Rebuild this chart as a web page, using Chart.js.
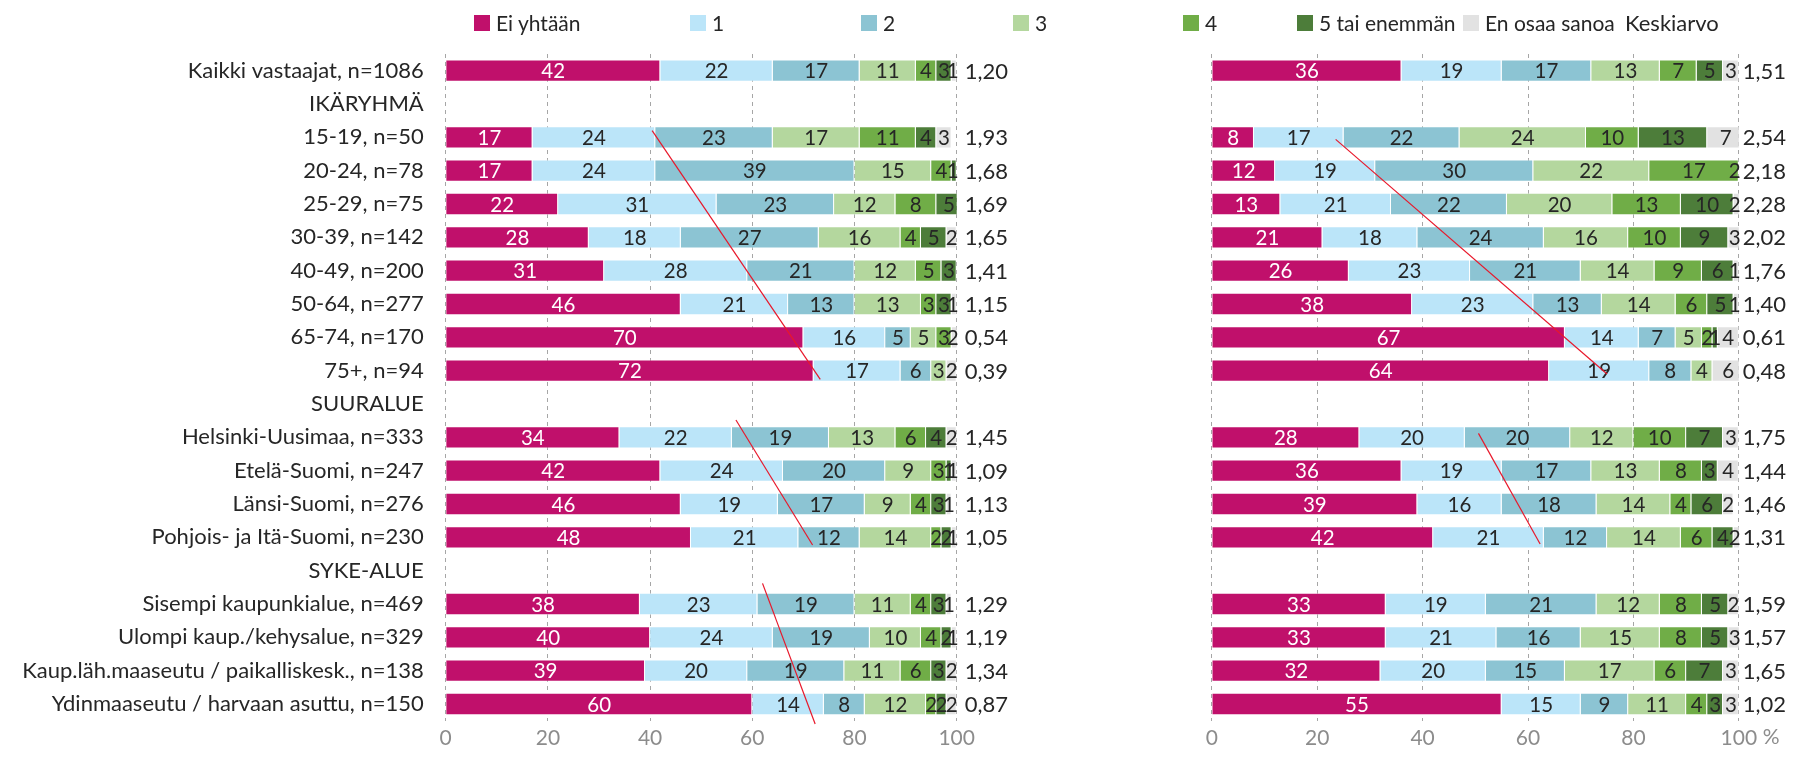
<!DOCTYPE html>
<html>
<head>
<meta charset="utf-8">
<script src="https://cdn.jsdelivr.net/npm/chart.js@4.4.1/dist/chart.umd.min.js"></script>
<style>
html, body { margin: 0; padding: 0; background: #fff; }
body { width: 1801px; height: 757px; position: relative; overflow: hidden; font-family: Lato, "Open Sans", sans-serif; }
canvas { position: absolute; top: 0; }
#leftChart { left: 0; }
#rightChart { left: 1030px; }
.legend-item { position: absolute; top: 9px; font-size: 21px; line-height: 28px; color: #262626; white-space: nowrap; }
.legend-box { position: absolute; top: 6px; width: 16px; height: 16px; }
</style>
</head>
<body>
<canvas id="leftChart" width="1030" height="757"></canvas>
<canvas id="rightChart" width="771" height="757"></canvas>
<div id="legend"></div>
<script>
const categories = [
    'Kaikki vastaajat, n=1086', 'IKÄRYHMÄ',
    '15-19, n=50', '20-24, n=78', '25-29, n=75', '30-39, n=142',
    '40-49, n=200', '50-64, n=277', '65-74, n=170', '75+, n=94',
    'SUURALUE',
    'Helsinki-Uusimaa, n=333', 'Etelä-Suomi, n=247', 'Länsi-Suomi, n=276', 'Pohjois- ja Itä-Suomi, n=230',
    'SYKE-ALUE',
    'Sisempi kaupunkialue, n=469', 'Ulompi kaup./kehysalue, n=329',
    'Kaup.läh.maaseutu / paikalliskesk., n=138', 'Ydinmaaseutu / harvaan asuttu, n=150'
];
const seriesNames = ['Ei yhtään', '1', '2', '3', '4', '5 tai enemmän', 'En osaa sanoa'];
const seriesColors = ['#C0106B', '#BBE5F9', '#8CC4D3', '#B4D79E', '#70AD47', '#4D7D3A', '#E2E2E2'];
const meanTitle = 'Keskiarvo';

// vasen kuvio
const leftEi  = [42, null, 17, 17, 22, 28, 31, 46, 70, 72, null, 34, 42, 46, 48, null, 38, 40, 39, 60];
const left1   = [22, null, 24, 24, 31, 18, 28, 21, 16, 17, null, 22, 24, 19, 21, null, 23, 24, 20, 14];
const left2   = [17, null, 23, 39, 23, 27, 21, 13, 5, 6, null, 19, 20, 17, 12, null, 19, 19, 19, 8];
const left3   = [11, null, 17, 15, 12, 16, 12, 13, 5, 3, null, 13, 9, 9, 14, null, 11, 10, 11, 12];
const left4   = [4, null, 11, 4, 8, 4, 5, 3, 3, 0, null, 6, 3, 4, 2, null, 4, 4, 6, 2];
const left5   = [3, null, 4, 1, 5, 5, 3, 3, 0, 0, null, 4, 1, 3, 2, null, 3, 2, 3, 2];
const leftEos = [1, null, 3, 0, 0, 2, 0, 1, 2, 2, null, 2, 1, 1, 1, null, 1, 1, 2, 2];
const leftMean = [1.20, null, 1.93, 1.68, 1.69, 1.65, 1.41, 1.15, 0.54, 0.39, null, 1.45, 1.09, 1.13, 1.05, null, 1.29, 1.19, 1.34, 0.87];

// oikea kuvio
const rightEi  = [36, null, 8, 12, 13, 21, 26, 38, 67, 64, null, 28, 36, 39, 42, null, 33, 33, 32, 55];
const right1   = [19, null, 17, 19, 21, 18, 23, 23, 14, 19, null, 20, 19, 16, 21, null, 19, 21, 20, 15];
const right2   = [17, null, 22, 30, 22, 24, 21, 13, 7, 8, null, 20, 17, 18, 12, null, 21, 16, 15, 9];
const right3   = [13, null, 24, 22, 20, 16, 14, 14, 5, 4, null, 12, 13, 14, 14, null, 12, 15, 17, 11];
const right4   = [7, null, 10, 17, 13, 10, 9, 6, 2, 0, null, 10, 8, 4, 6, null, 8, 8, 6, 4];
const right5   = [5, null, 13, 0, 10, 9, 6, 5, 1, 0, null, 7, 3, 6, 4, null, 5, 5, 7, 3];
const rightEos = [3, null, 7, 2, 2, 3, 1, 1, 4, 6, null, 3, 4, 2, 2, null, 2, 3, 3, 3];
const rightMean = [1.51, null, 2.54, 2.18, 2.28, 2.02, 1.76, 1.40, 0.61, 0.48, null, 1.75, 1.44, 1.46, 1.31, null, 1.59, 1.57, 1.65, 1.02];

const xTicks = [0, 20, 40, 60, 80, 100];

// punaiset trendiviivat: [x1, rivi1, x2, rivi2] arvoina
const leftTrends = [[40.4, 1.8, 73.3, 9.26], [56.8, 10.48, 71.8, 14.23], [62.0, 15.38, 72.3, 19.6]];
const rightTrends = [[23.5, 2.06, 75.0, 9.1], [50.6, 10.88, 62.3, 14.2]];

const FONT = 'Lato, "Open Sans", sans-serif';
const TEXT = '#262626';

// legend
const legendX = [474, 690, 861, 1013, 1183, 1297, 1463];
const legendEl = document.getElementById('legend');
seriesNames.forEach((name, i) => {
    const item = document.createElement('div');
    item.className = 'legend-item';
    item.style.left = legendX[i] + 'px';
    item.innerHTML = '<span class="legend-box" style="left:0;background:' + seriesColors[i] + '"></span>' +
        '<span style="margin-left:22px">' + name + '</span>';
    legendEl.appendChild(item);
});
const kesk = document.createElement('div');
kesk.className = 'legend-item';
kesk.style.left = '1625px';
kesk.style.fontSize = '22px';
kesk.textContent = meanTitle;
legendEl.appendChild(kesk);

const segmentLabels = {
    id: 'segmentLabels',
    afterDatasetsDraw(chart) {
        const ctx = chart.ctx;
        const area = chart.chartArea;
        ctx.save();
        ctx.font = '20.5px ' + FONT;
        ctx.textAlign = 'center';
        ctx.textBaseline = 'middle';
        chart.data.datasets.forEach((ds, d) => {
            const meta = chart.getDatasetMeta(d);
            meta.data.forEach((bar, i) => {
                const v = ds.data[i];
                if (!v) return;
                const x = Math.min((bar.x + bar.base) / 2, area.right - 4);
                ctx.fillStyle = d === 0 ? '#ffffff' : TEXT;
                ctx.fillText(String(v), x, bar.y + 1);
            });
        });
        ctx.restore();
    }
};

const meanLabels = {
    id: 'meanLabels',
    afterDraw(chart) {
        const o = chart.options.plugins.meanLabels;
        const ctx = chart.ctx;
        const yScale = chart.scales.y;
        const xScale = chart.scales.x;
        ctx.save();
        ctx.font = '22px ' + FONT;
        ctx.fillStyle = TEXT;
        ctx.textAlign = 'left';
        ctx.textBaseline = 'middle';
        o.values.forEach((m, i) => {
            if (m === null) return;
            ctx.fillText(m.toFixed(2).replace('.', ','), chart.chartArea.right + o.offset, yScale.getPixelForValue(i) + 1);
        });
        if (o.unit) {
            ctx.font = '21px ' + FONT;
            ctx.fillStyle = '#8C8C8C';
            ctx.fillText(o.unit, chart.chartArea.right + 24, xScale.bottom - 20);
        }
        // trendiviivat
        ctx.strokeStyle = '#E8182B';
        ctx.lineWidth = 1.2;
        o.trends.forEach(t => {
            ctx.beginPath();
            ctx.moveTo(xScale.getPixelForValue(t[0]), yScale.getPixelForValue(t[1]));
            ctx.lineTo(xScale.getPixelForValue(t[2]), yScale.getPixelForValue(t[3]));
            ctx.stroke();
        });
        ctx.restore();
    }
};

function makeChart(id, series, means, trends, cfg) {
    return new Chart(document.getElementById(id), {
        type: 'bar',
        data: {
            labels: categories,
            datasets: series.map((s, i) => ({
                label: seriesNames[i],
                data: s,
                backgroundColor: seriesColors[i],
                borderColor: 'rgba(255,255,255,0.5)',
                borderWidth: { left: 0, right: 1, top: 1, bottom: 1 },
                borderSkipped: false,
                categoryPercentage: 1,
                barPercentage: 0.67
            }))
        },
        options: {
            indexAxis: 'y',
            responsive: false,
            animation: false,
            devicePixelRatio: 1,
            layout: { padding: cfg.padding },
            scales: {
                x: {
                    stacked: true,
                    min: 0,
                    max: 100,
                    afterBuildTicks: axis => { axis.ticks = xTicks.map(v => ({ value: v })); },
                    afterFit: axis => { axis.height = 36.3; },
                    grid: { color: '#A6A6A6', lineWidth: 1, drawTicks: false },
                    border: { display: false, dash: [4, 4] },
                    ticks: { color: '#8C8C8C', padding: 5, font: { family: FONT, size: 21 } }
                },
                y: {
                    stacked: true,
                    display: cfg.showLabels,
                    afterFit: axis => { axis.width = cfg.axisWidth; },
                    grid: { display: false, drawTicks: false },
                    border: { display: false },
                    ticks: { color: TEXT, padding: 22, autoSkip: false, font: { family: FONT, size: 22 } }
                }
            },
            plugins: {
                legend: { display: false },
                tooltip: { enabled: false },
                meanLabels: { values: means, trends: trends, offset: cfg.meanOffset, unit: cfg.unit }
            }
        },
        plugins: [segmentLabels, meanLabels]
    });
}

makeChart('leftChart',
    [leftEi, left1, left2, left3, left4, left5, leftEos], leftMean, leftTrends,
    { padding: { top: 54, right: 73.3, bottom: 0, left: 0 }, showLabels: true, axisWidth: 445.7, meanOffset: 8, unit: null });

makeChart('rightChart',
    [rightEi, right1, right2, right3, right4, right5, rightEos], rightMean, rightTrends,
    { padding: { top: 54, right: 62.2, bottom: 0, left: 181.8 }, showLabels: false, axisWidth: 0, meanOffset: 4, unit: '%' });
</script>
</body>
</html>
